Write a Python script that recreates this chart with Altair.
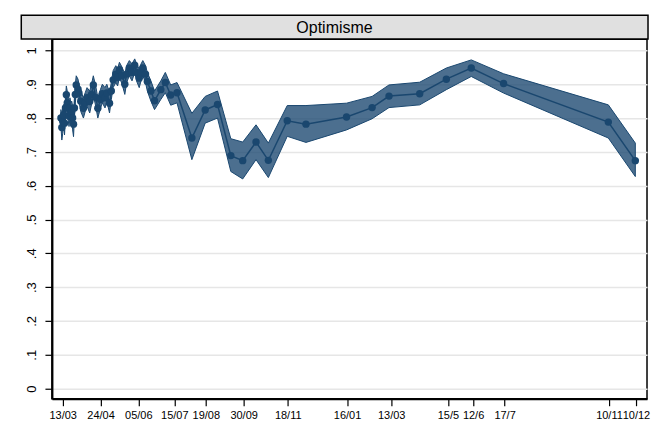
import altair as alt
import pandas as pd

# days since 13/03/2020
days = [-2, -1, 0, 1, 2, 3, 4, 5, 6, 7, 8, 9, 10, 11, 12, 13, 14, 15, 17, 18, 20, 23, 25, 27, 30, 32, 34,
        37, 39, 42, 44, 47, 49, 52, 54, 56, 59, 61, 63, 66, 69, 71, 74, 77, 80, 82, 85, 87, 89, 92, 94,
        98, 102, 109, 114, 120, 127, 143.5, 158.3, 172, 186.8, 200, 214.8, 228.5, 249.5, 270.3, 315.4,
        343.8, 362.6, 396.7, 426.3, 454, 489.9, 606.3, 636.3]
values = [.800, .772, .790, .810, .785, .830, .869, .845, .829, .805, .830, .815, .820, .800, .782, .830,
          .870, .898, .885, .874, .850, .829, .845, .860, .849, .870, .898, .860, .829, .855, .872, .860,
          .874, .844, .880, .913, .930, .920, .943, .925, .900, .930, .948, .935, .956, .935, .918, .935,
          .948, .930, .908, .880, .851, .884, .905, .868, .875, .741, .824, .840, .689, .674, .729, .675,
          .792, .782, .803, .831, .865, .872, .915, .948, .902, .788, .674]
lower = [.775, .735, .755, .780, .750, .800, .845, .810, .795, .775, .800, .785, .790, .765, .745, .800,
         .845, .870, .860, .850, .820, .800, .820, .835, .815, .840, .870, .830, .800, .830, .845, .830,
         .850, .815, .855, .890, .905, .895, .920, .900, .870, .905, .925, .910, .935, .910, .890, .910,
         .925, .905, .880, .850, .825, .855, .875, .838, .845, .677, .785, .800, .642, .620, .677, .624,
         .746, .728, .765, .798, .831, .839, .884, .923, .874, .741, .627]
upper = [.825, .805, .825, .840, .820, .860, .895, .880, .865, .835, .860, .845, .850, .835, .815, .860,
         .900, .925, .915, .900, .880, .860, .875, .890, .880, .900, .925, .890, .860, .885, .900, .890,
         .900, .875, .905, .940, .955, .945, .965, .950, .930, .955, .970, .960, .975, .960, .945, .960,
         .970, .955, .935, .910, .880, .910, .935, .898, .905, .814, .864, .880, .739, .729, .780, .726,
         .837, .837, .844, .864, .898, .906, .948, .972, .931, .839, .726]

tick_days = [0, 42, 84, 124, 159, 201, 250, 316, 365, 428, 456, 491, 607, 637]
tick_labels = ["13/03", "24/04", "05/06", "15/07", "19/08", "30/09", "18/11", "16/01", "13/03",
               "15/5", "12/6", "17/7", "10/11", "10/12"]
y_ticks = [0, 0.1, 0.2, 0.3, 0.4, 0.5, 0.6, 0.7, 0.8, 0.9, 1]
y_labels = ["0", ".1", ".2", ".3", ".4", ".5", ".6", ".7", ".8", ".9", "1"]

title_text = "Optimisme"

df = pd.DataFrame({"day": days, "val": values, "lo": lower, "hi": upper})

NAVY = "#1a476f"
FONT = "Liberation Sans"

xscale = alt.Scale(domain=[-12, 649.3], nice=False, zero=False)
yscale = alt.Scale(domain=[-0.03, 1.033], nice=False, zero=False)

x_label_expr = "[" + ",".join("'%s'" % t for t in tick_labels) + "][indexof([" + \
    ",".join(str(d) for d in tick_days) + "], datum.value)]"
y_label_expr = "[" + ",".join("'%s'" % t for t in y_labels) + "][round(datum.value * 10)]"

xaxis = alt.Axis(values=tick_days, labelExpr=x_label_expr, title=None, grid=False,
                 domainColor="black", domainWidth=2, tickColor="black", tickSize=7, tickWidth=1.2,
                 labelColor="black", labelFont=FONT, labelFontSize=11, labelPadding=4,
                 labelOverlap=False, labelBound=False, labelFlush=False)
yaxis = alt.Axis(values=y_ticks, labelExpr=y_label_expr, title=None, grid=True,
                 gridColor="#e6e6e6", gridWidth=1.5,
                 labelAngle=270, domainColor="black", domainWidth=2, tickColor="black", tickSize=7,
                 tickWidth=1.2, labelColor="black", labelFont=FONT, labelFontSize=13, labelPadding=6,
                 labelOverlap=False, labelBound=False, labelFlush=False)

base = alt.Chart(df)
X = alt.X("day:Q", scale=xscale, axis=xaxis)

band = base.mark_area(color=NAVY, fillOpacity=0.78, stroke=NAVY, strokeWidth=1).encode(
    x=X, y=alt.Y("lo:Q", scale=yscale, axis=yaxis), y2="hi:Q")
line = base.mark_line(color=NAVY, strokeWidth=1.5).encode(
    x=X, y=alt.Y("val:Q", scale=yscale, axis=yaxis))
pts = base.mark_point(filled=True, color=NAVY, size=55, opacity=1).encode(
    x=X, y=alt.Y("val:Q", scale=yscale, axis=yaxis))

tdf = pd.DataFrame({"t": [title_text]})
tbox = alt.Chart(tdf).mark_rect(fill="#e0e0e0", stroke="black", strokeWidth=1.5).encode(
    x=alt.value(-30.7), x2=alt.value(597), y=alt.value(-24), y2=alt.value(-0.3))
ttext = alt.Chart(tdf).mark_text(font=FONT, fontSize=16, color="black", baseline="middle",
                                 align="center").encode(
    x=alt.value(283), y=alt.value(-11.5), text="t:N")

chart = alt.layer(band, line, pts, tbox, ttext).properties(
    width=596, height=360,
    padding={"left": 12, "top": 6, "right": 5, "bottom": 5},
).configure_view(stroke="black", strokeWidth=1.5)

chart.save("out.html", embed_options={"renderer": "svg", "actions": False})
